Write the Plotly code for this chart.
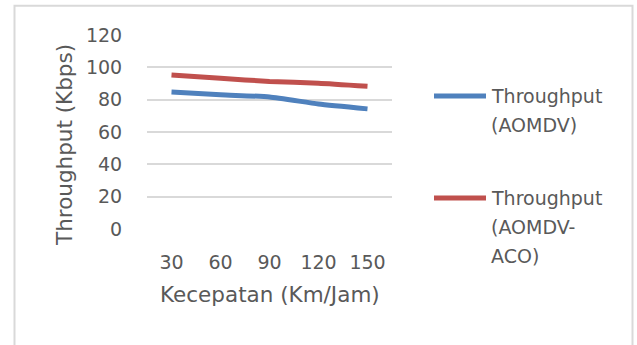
import plotly.graph_objects as go

# Speed categories (km/h) and measured throughput (Kbps)
speeds = ["30", "60", "90", "120", "150"]
throughput_aomdv = [84.8, 83.0, 81.7, 77.3, 74.3]
throughput_aomdv_aco = [95.3, 93.2, 91.3, 90.2, 88.3]

series_names = ["Throughput (AOMDV)", "Throughput (AOMDV-ACO)"]
legend_lines = [["Throughput", "(AOMDV)"], ["Throughput", "(AOMDV-", "ACO)"]]
colors = ["#4F81BD", "#C0504D"]

y_ticks = [0, 20, 40, 60, 80, 100, 120]

W, H = 637, 345
L, R, T, B = 147, 245, 35, 116
PW, PH = W - L - R, H - T - B

FONT = "DejaVu Sans"
TEXT = "#595959"
FS = 19        # tick labels and legend
FS_TITLE = 21.5  # axis titles


def px(x):
    return (x - L) / PW


def py(y):
    return (H - B - y) / PH


fig = go.Figure()
for vals, name, col in zip([throughput_aomdv, throughput_aomdv_aco], series_names, colors):
    fig.add_trace(go.Scatter(
        x=speeds, y=vals, name=name, mode="lines",
        line=dict(color=col, width=5, shape="spline", smoothing=0.5),
        showlegend=False,
    ))

shapes = [
    # outer chart frame
    dict(type="rect", xref="paper", yref="paper",
         x0=px(14.5), x1=px(632.5), y0=py(360), y1=py(5.7),
         line=dict(color="#D9D9D9", width=2), fillcolor="rgba(0,0,0,0)", layer="below"),
]
annotations = []

# legend entries
legend_y = [96, 198]
for col, lines, ly in zip(colors, legend_lines, legend_y):
    shapes.append(dict(type="line", xref="paper", yref="paper",
                       x0=px(434), x1=px(486), y0=py(ly), y1=py(ly),
                       line=dict(color=col, width=5)))
    for i, t in enumerate(lines):
        annotations.append(dict(text=t, xref="paper", yref="paper",
                                x=px(489), y=py(ly + 29 * i), xanchor="left", yanchor="middle",
                                showarrow=False, font=dict(family=FONT, size=FS, color=TEXT)))

# axis titles
annotations.append(dict(text="Kecepatan (Km/Jam)", xref="paper", yref="paper",
                        x=px(270), y=py(294), xanchor="center", yanchor="middle",
                        showarrow=False, font=dict(family=FONT, size=FS_TITLE, color=TEXT)))
annotations.append(dict(text="Throughput (Kbps)", xref="paper", yref="paper",
                        x=px(64), y=py(145), xanchor="center", yanchor="middle", textangle=-90,
                        showarrow=False, font=dict(family=FONT, size=FS_TITLE, color=TEXT)))

fig.update_layout(
    width=W, height=H,
    margin=dict(l=L, r=R, t=T, b=B, autoexpand=False),
    paper_bgcolor="white", plot_bgcolor="white",
    font=dict(family=FONT, size=FS, color=TEXT),
    shapes=shapes, annotations=annotations,
    xaxis=dict(type="category", range=[-0.5, 4.5], showgrid=False, zeroline=False,
               showline=False, ticks="outside", ticklen=16, tickcolor="rgba(0,0,0,0)",
               tickfont=dict(family=FONT, size=FS, color=TEXT), fixedrange=True),
    yaxis=dict(range=[0, 120], tickvals=y_ticks, ticktext=[str(v) for v in y_ticks],
               showgrid=True, gridcolor="#D9D9D9", gridwidth=1.5, zeroline=False,
               showline=False, ticks="outside", ticklen=20, tickcolor="rgba(0,0,0,0)",
               tickfont=dict(family=FONT, size=FS, color=TEXT), fixedrange=True),
)

fig.write_html("out.html")
